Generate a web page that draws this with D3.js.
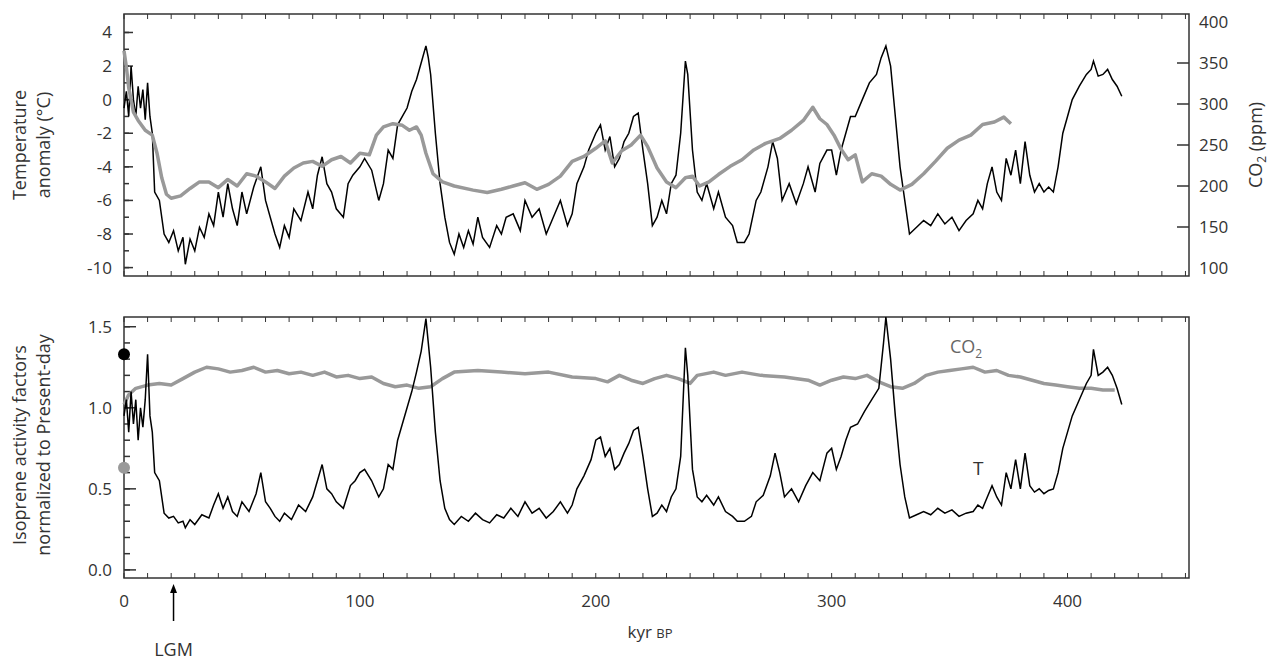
<!DOCTYPE html>
<html><head><meta charset="utf-8">
<script src="https://cdnjs.cloudflare.com/ajax/libs/d3/7.8.5/d3.min.js"></script>
<style>body{margin:0;background:#fff}text{font-family:"Open Sans",sans-serif;fill:#333}</style>
</head><body><svg id="c" width="1274" height="661"></svg>
<script>
// temperature anomaly (°C), Vostok, [kyr BP, T]
const tempTop = [[0,-0.5],[1,0.5],[2,-1],[3,2],[4,0],[5,-1],[6,0.8],[7,-0.5],[8,0.6],[9,-1.2],[10,1],[11,-1],[12,-2],[13,-5.5],[15,-6],[17,-8],[19,-8.5],[21,-7.8],[23,-9],[25,-8.2],[26,-9.8],[28,-8.3],[30,-9],[32,-7.6],[34,-8.2],[36,-6.8],[38,-7.5],[40,-5.5],[42,-7],[44,-5],[46,-6.5],[48,-7.5],[50,-5.5],[52,-6.8],[55,-5.2],[58,-4],[60,-6],[62,-7],[64,-8],[66,-8.8],[68,-7.5],[70,-8.2],[72,-6.5],[75,-7.2],[78,-5.5],[80,-6.5],[82,-4.5],[84,-3.4],[86,-5],[88,-5.5],[90,-6.5],[93,-7],[95,-5],[97,-4.5],[100,-4],[102,-3.5],[105,-4.2],[108,-6],[110,-5],[112,-3],[114,-3.5],[116,-1.5],[118,-1],[120,-0.5],[122,0.5],[124,1.2],[126,2.2],[128,3.2],[129,2.5],[130,1.5],[132,-2],[134,-5],[136,-7],[138,-8.5],[140,-9.2],[142,-8],[144,-8.8],[146,-7.8],[148,-8.6],[150,-7],[152,-8.2],[155,-8.8],[158,-7.5],[160,-8],[162,-7],[165,-6.8],[168,-7.8],[170,-6],[173,-7],[176,-6.5],[179,-8],[182,-7],[185,-6],[188,-7.5],[190,-6.8],[192,-5],[195,-4],[197,-3],[200,-2],[202,-1.5],[204,-3],[206,-2.2],[208,-4],[210,-3.5],[212,-2.5],[214,-2],[216,-1],[218,-0.8],[220,-3],[222,-5],[224,-7.5],[226,-7],[228,-6],[230,-6.8],[232,-5],[234,-4.5],[236,-2],[238,2.3],[239,1.5],[241,-3],[243,-5.5],[245,-6],[247,-5],[250,-6.5],[252,-5.5],[255,-7],[258,-7.5],[260,-8.5],[263,-8.5],[265,-8],[268,-6],[270,-5.5],[273,-4],[275,-2.5],[277,-3.5],[279,-6],[282,-5],[285,-6.2],[288,-5],[290,-4],[293,-5.5],[295,-3.8],[298,-3],[300,-3],[302,-4.5],[304,-3],[306,-2],[308,-1],[310,-1],[313,0],[316,1],[319,1.5],[321,2.5],[323,3.2],[325,2],[327,-1],[329,-4],[331,-6],[333,-8],[336,-7.6],[339,-7.2],[342,-7.5],[345,-6.8],[348,-7.4],[351,-7],[354,-7.8],[357,-7.2],[360,-6.8],[362,-6],[364,-6.5],[366,-5],[368,-4],[370,-5.5],[372,-6],[374,-3.5],[376,-4.5],[378,-3],[380,-5],[382,-2.5],[384,-4.5],[386,-5.5],[388,-5],[390,-5.5],[392,-5.2],[394,-5.5],[396,-4],[398,-2],[400,-1],[402,0],[405,0.8],[408,1.5],[410,1.8],[411,2.3],[413,1.4],[415,1.5],[417,1.8],[419,1.2],[421,0.8],[423,0.2]];
// CO2 (ppm), [kyr BP, ppm]
const co2Top = [[0,365],[1,345],[2,320],[4,290],[6,280],[9,268],[12,262],[14,240],[16,210],[18,190],[20,185],[24,188],[28,197],[32,205],[36,205],[40,198],[44,208],[48,200],[52,215],[56,212],[60,205],[64,197],[68,212],[72,222],[76,228],[80,230],[84,224],[88,232],[92,236],[96,228],[100,240],[104,238],[107,262],[110,272],[114,276],[118,274],[121,268],[124,272],[126,262],[128,240],[131,215],[135,205],[140,200],[148,195],[154,192],[160,196],[165,200],[170,204],[175,196],[180,202],[185,212],[190,230],[195,236],[200,246],[204,255],[207,228],[211,243],[215,250],[219,262],[222,248],[226,222],[230,205],[234,198],[238,210],[241,212],[244,200],[248,205],[252,214],[257,224],[262,232],[267,244],[272,252],[278,258],[283,268],[288,280],[292,296],[295,282],[298,275],[301,262],[304,245],[307,232],[310,238],[313,205],[317,215],[321,212],[325,202],[329,195],[334,202],[339,215],[344,230],[349,246],[354,256],[359,262],[364,275],[369,278],[373,284],[376,276]];
// isoprene factors (bottom panel)
const isoT = [[0,0.95],[1,1.05],[2,0.85],[3,1.1],[4,0.9],[5,1.05],[6,0.8],[7,1.0],[8,0.88],[9,1.05],[10,1.33],[11,0.95],[12,0.85],[13,0.6],[15,0.55],[17,0.35],[19,0.32],[21,0.33],[23,0.29],[25,0.3],[26,0.26],[28,0.31],[30,0.28],[33,0.34],[36,0.32],[38,0.4],[40,0.47],[42,0.38],[44,0.45],[46,0.36],[48,0.33],[50,0.42],[53,0.36],[56,0.47],[58,0.6],[60,0.42],[62,0.38],[64,0.33],[66,0.3],[68,0.35],[71,0.31],[74,0.4],[77,0.36],[80,0.45],[82,0.55],[84,0.65],[86,0.5],[88,0.47],[90,0.42],[93,0.38],[96,0.52],[98,0.55],[100,0.6],[102,0.62],[105,0.55],[108,0.45],[110,0.5],[112,0.65],[114,0.62],[116,0.8],[118,0.9],[120,1.0],[122,1.1],[124,1.22],[126,1.35],[128,1.55],[129,1.4],[130,1.25],[132,0.85],[134,0.55],[136,0.38],[138,0.31],[140,0.28],[143,0.33],[146,0.3],[149,0.35],[152,0.31],[155,0.29],[158,0.34],[161,0.32],[164,0.38],[167,0.33],[170,0.42],[173,0.35],[176,0.38],[179,0.32],[182,0.36],[185,0.42],[188,0.35],[190,0.4],[192,0.5],[195,0.58],[198,0.68],[200,0.8],[202,0.82],[204,0.7],[206,0.75],[208,0.62],[210,0.65],[212,0.72],[214,0.78],[216,0.86],[218,0.88],[220,0.7],[222,0.5],[224,0.33],[226,0.35],[228,0.4],[230,0.36],[232,0.45],[234,0.5],[236,0.7],[238,1.37],[239,1.2],[241,0.62],[243,0.45],[245,0.42],[247,0.46],[250,0.4],[252,0.45],[255,0.36],[258,0.33],[260,0.3],[263,0.3],[266,0.33],[268,0.42],[271,0.46],[274,0.58],[276,0.72],[278,0.6],[280,0.45],[283,0.5],[286,0.42],[289,0.52],[292,0.6],[295,0.55],[298,0.72],[300,0.75],[302,0.62],[304,0.7],[306,0.8],[308,0.88],[311,0.9],[314,0.98],[317,1.05],[320,1.12],[322,1.4],[323,1.56],[325,1.3],[327,0.95],[329,0.65],[331,0.45],[333,0.32],[336,0.34],[339,0.36],[342,0.34],[345,0.38],[348,0.35],[351,0.37],[354,0.33],[357,0.35],[360,0.36],[362,0.4],[364,0.38],[366,0.45],[368,0.52],[370,0.45],[372,0.4],[374,0.6],[376,0.5],[378,0.68],[380,0.5],[382,0.72],[384,0.52],[386,0.48],[388,0.5],[390,0.47],[392,0.49],[394,0.5],[396,0.6],[398,0.75],[400,0.85],[402,0.95],[405,1.05],[408,1.15],[410,1.2],[411,1.36],[413,1.2],[415,1.22],[417,1.25],[419,1.2],[421,1.12],[423,1.02]];
const isoCO2 = [[0,1.02],[2,1.08],[5,1.12],[10,1.14],[15,1.15],[20,1.14],[25,1.18],[30,1.22],[35,1.25],[40,1.24],[45,1.22],[50,1.23],[55,1.25],[60,1.22],[65,1.23],[70,1.21],[75,1.22],[80,1.2],[85,1.22],[90,1.19],[95,1.2],[100,1.18],[105,1.19],[110,1.15],[115,1.13],[120,1.14],[125,1.12],[130,1.13],[135,1.18],[140,1.22],[150,1.23],[160,1.22],[170,1.21],[180,1.22],[190,1.19],[200,1.18],[205,1.16],[210,1.2],[215,1.17],[220,1.15],[225,1.18],[230,1.2],[235,1.18],[240,1.15],[243,1.2],[250,1.22],[255,1.2],[262,1.22],[270,1.2],[280,1.19],[290,1.17],[295,1.14],[300,1.17],[305,1.19],[310,1.18],[315,1.2],[320,1.16],[325,1.13],[330,1.12],[335,1.15],[340,1.2],[345,1.22],[350,1.23],[355,1.24],[360,1.25],[365,1.22],[370,1.23],[375,1.2],[380,1.19],[385,1.17],[390,1.15],[395,1.14],[400,1.13],[405,1.12],[410,1.12],[415,1.11],[420,1.11]];
const tempTicks = [4,2,0,-2,-4,-6,-8,-10];
const co2Ticks = [100,150,200,250,300,350,400];
const isoTicks = [0.0,0.5,1.0,1.5];
const xTicks = [0,100,200,300,400];
const presentMarks = [[0,1.33,"#000"],[0,0.63,"#999"]];

const svg = d3.select("#c");
const L = 124, R = 1189;
const x = d3.scaleLinear().domain([0,451.5]).range([L,R]);
const yT = d3.scaleLinear().domain([-10.5,5.1]).range([276,14]);
const yC = d3.scaleLinear().domain([100,400]).range([268,22]);
const yI = d3.scaleLinear().domain([-0.05,1.56]).range([578,317]);
const ink = "#333";
const fs = 17;

function frame(top, bot) {
  svg.append("rect").attr("x",L).attr("y",top).attr("width",R-L).attr("height",bot-top)
    .attr("fill","none").attr("stroke",ink).attr("stroke-width",1.5);
  d3.range(0,451,10).forEach(k => {
    svg.append("line").attr("x1",x(k)).attr("x2",x(k)).attr("y1",top).attr("y2",top+5).attr("stroke",ink);
    svg.append("line").attr("x1",x(k)).attr("x2",x(k)).attr("y1",bot).attr("y2",bot-5).attr("stroke",ink);
  });
}
function yTicks(scale, vals, side, len) {
  vals.forEach(v => {
    const x0 = side === "l" ? L : R;
    svg.append("line").attr("x1",x0).attr("x2",side==="l"?x0+len:x0-len)
      .attr("y1",scale(v)).attr("y2",scale(v)).attr("stroke",ink).attr("stroke-width",1.5);
  });
}
frame(14,276);
frame(317,578);

yTicks(yT, d3.range(-10,5,1), "l", 5);
yTicks(yT, tempTicks, "l", 9);
tempTicks.forEach(v => svg.append("text").attr("x",L-12).attr("y",yT(v)+6).attr("text-anchor","end").attr("font-size",fs).text(v));
yTicks(yC, co2Ticks.slice(1,-1), "r", 12);
co2Ticks.forEach(v => svg.append("text").attr("x",R+10).attr("y",yC(v)+6).attr("font-size",fs).text(v));

yTicks(yI, d3.range(0,15.1,1).map(d=>d/10), "l", 6);
yTicks(yI, isoTicks, "l", 12);
isoTicks.forEach(v => svg.append("text").attr("x",L-12).attr("y",yI(v)+6).attr("text-anchor","end").attr("font-size",fs).text(v.toFixed(1)));
xTicks.forEach(v => svg.append("text").attr("x",x(v)).attr("y",607).attr("text-anchor","middle").attr("font-size",fs).text(v));

const line = (ys) => d3.line().x(d=>x(d[0])).y(d=>ys(d[1]));
svg.append("path").datum(tempTop).attr("d",line(yT)).attr("fill","none").attr("stroke","#000").attr("stroke-width",1.5);
svg.append("path").datum(co2Top).attr("d",line(yC)).attr("fill","none").attr("stroke","#999").attr("stroke-width",3.5).attr("stroke-linejoin","round");
svg.append("path").datum(isoCO2).attr("d",line(yI)).attr("fill","none").attr("stroke","#999").attr("stroke-width",3.5).attr("stroke-linejoin","round");
svg.append("path").datum(isoT).attr("d",line(yI)).attr("fill","none").attr("stroke","#000").attr("stroke-width",1.5);
presentMarks.forEach(m => svg.append("circle").attr("cx",x(m[0])).attr("cy",yI(m[1])).attr("r",6).attr("fill",m[2]));

svg.append("text").attr("x",950).attr("y",353).attr("font-size",18).style("fill","#666").html('CO<tspan font-size="12" dy="5">2</tspan>');
svg.append("text").attr("x",973).attr("y",475).attr("font-size",19).text("T");

svg.append("text").attr("transform","translate(26,145) rotate(-90)").attr("text-anchor","middle").attr("font-size",18).text("Temperature");
svg.append("text").attr("transform","translate(50,145) rotate(-90)").attr("text-anchor","middle").attr("font-size",18).text("anomaly (°C)");
svg.append("text").attr("transform","translate(26,445) rotate(-90)").attr("text-anchor","middle").attr("font-size",18).text("Isoprene activity factors");
svg.append("text").attr("transform","translate(50,445) rotate(-90)").attr("text-anchor","middle").attr("font-size",18).text("normalized to Present-day");
svg.append("text").attr("transform","translate(1262,145) rotate(-90)").attr("text-anchor","middle").attr("font-size",18).html('CO<tspan font-size="12" dy="4">2</tspan><tspan dy="-4"> (ppm)</tspan>');
svg.append("text").attr("x",650).attr("y",638).attr("text-anchor","middle").attr("font-size",17).html('kyr <tspan font-size="13">BP</tspan>');

svg.append("line").attr("x1",x(21)).attr("x2",x(21)).attr("y1",621).attr("y2",591).attr("stroke","#000").attr("stroke-width",1.5);
svg.append("path").attr("d",`M${x(21)-3.5},${593} L${x(21)},${584} L${x(21)+3.5},${593} Z`).attr("fill","#000");
svg.append("text").attr("x",x(21)).attr("y",656).attr("text-anchor","middle").attr("font-size",18).text("LGM");
</script></body></html>
